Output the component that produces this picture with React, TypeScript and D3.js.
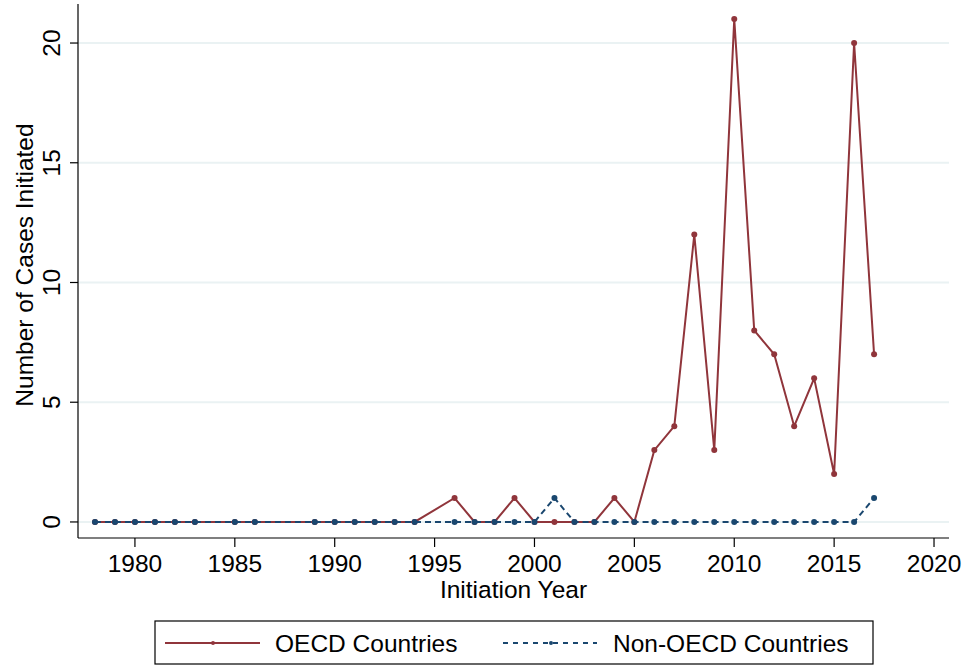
import React from "react";
import * as d3 from "d3";

const years = [1978,1979,1980,1981,1982,1983,1985,1986,1989,1990,1991,1992,1993,1994,1996,1997,1998,1999,2000,2001,2002,2003,2004,2005,2006,2007,2008,2009,2010,2011,2012,2013,2014,2015,2016,2017];
const oecd = [0,0,0,0,0,0,0,0,0,0,0,0,0,0,1,0,0,1,0,0,0,0,1,0,3,4,12,3,21,8,7,4,6,2,20,7];
const nonOecd = [0,0,0,0,0,0,0,0,0,0,0,0,0,0,0,0,0,0,0,1,0,0,0,0,0,0,0,0,0,0,0,0,0,0,0,1];
const xTicks = [1980,1985,1990,1995,2000,2005,2010,2015,2020];
const yTicks = [0,5,10,15,20];
const seriesNames = ["OECD Countries", "Non-OECD Countries"];

const RED = "#90353b";
const BLUE = "#1a476f";
const FONT = "'Liberation Sans', Arial, sans-serif";
const FS = 24.5;

export default function App() {
  const W = 963, H = 666;
  const left = 78, right = 949, top = 4, bottom = 538;
  const x = d3.scaleLinear().domain([1977.15, 2020.75]).range([left, right]);
  const y = d3.scaleLinear().domain([-0.67, 21.63]).range([bottom, top]);
  const line = d3.line<[number, number]>().x(d => x(d[0])).y(d => y(d[1]));
  const oData: [number, number][] = years.map((yr, i) => [yr, oecd[i]]);
  const nData: [number, number][] = years.map((yr, i) => [yr, nonOecd[i]]);
  return (
    <svg width={W} height={H} style={{ position: "absolute", left: 0, top: 0, background: "#fff" }} fontFamily={FONT}>
      <rect width={W} height={H} fill="#fff" />
      {yTicks.map(t => (
        <line key={"g" + t} x1={left} x2={right} y1={y(t)} y2={y(t)} stroke="#eaf2f3" strokeWidth={2} />
      ))}
      <path d={line(oData) || ""} fill="none" stroke={RED} strokeWidth={2} />
      {oData.map((d, i) => <circle key={"o" + i} cx={x(d[0])} cy={y(d[1])} r={3} fill={RED} />)}
      <path d={line(nData) || ""} fill="none" stroke={BLUE} strokeWidth={2} strokeDasharray="6 4" />
      {nData.map((d, i) => <circle key={"n" + i} cx={x(d[0])} cy={y(d[1])} r={3} fill={BLUE} />)}
      <line x1={left} x2={left} y1={top} y2={bottom} stroke="#000" strokeWidth={1.2} />
      <line x1={left} x2={right} y1={bottom} y2={bottom} stroke="#000" strokeWidth={1.2} />
      {yTicks.map(t => (
        <g key={"yt" + t}>
          <line x1={left - 8} x2={left} y1={y(t)} y2={y(t)} stroke="#000" strokeWidth={1.2} />
          <text transform={`translate(${left - 18},${y(t)}) rotate(-90)`} textAnchor="middle" fontSize={FS} fill="#000">{t}</text>
        </g>
      ))}
      {xTicks.map(t => (
        <g key={"xt" + t}>
          <line x1={x(t)} x2={x(t)} y1={bottom} y2={bottom + 9} stroke="#000" strokeWidth={1.2} />
          <text x={x(t)} y={572} textAnchor="middle" fontSize={FS} fill="#000">{t}</text>
        </g>
      ))}
      <text x={(left + right) / 2} y={598} textAnchor="middle" fontSize={FS} fill="#000">Initiation Year</text>
      <text transform={`translate(33,265) rotate(-90)`} textAnchor="middle" fontSize={FS} fill="#000">Number of Cases Initiated</text>
      <rect x={155} y={621} width={718} height={43} fill="#fff" stroke="#000" strokeWidth={1.2} />
      <line x1={165} x2={260} y1={643} y2={643} stroke={RED} strokeWidth={2} />
      <circle cx={213} cy={643} r={2} fill={RED} />
      <text x={275} y={652} fontSize={FS} fill="#000">{seriesNames[0]}</text>
      <line x1={503} x2={597} y1={643} y2={643} stroke={BLUE} strokeWidth={2} strokeDasharray="5 5" />
      <circle cx={551} cy={643} r={2} fill={BLUE} />
      <text x={613} y={652} fontSize={FS} fill="#000">{seriesNames[1]}</text>
    </svg>
  );
}
